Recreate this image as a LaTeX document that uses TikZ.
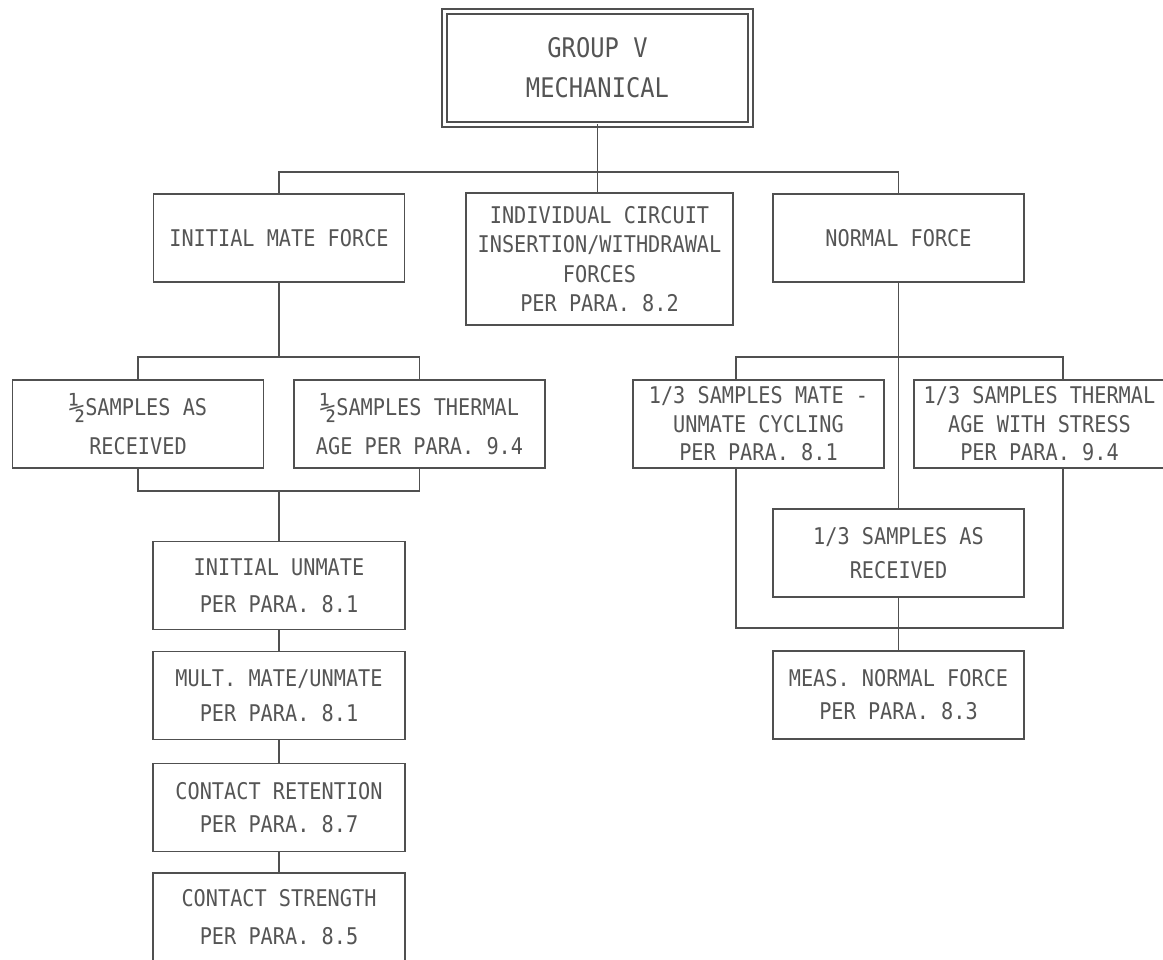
\documentclass[tikz,border=0pt]{standalone}
\usepackage{fontspec}
\usepackage{tikz}
\usepackage{xcolor}
\newfontfamily\cadfont[FakeStretch=0.88]{DejaVu Sans Mono}
\newcommand{\halfmark}{\raisebox{-3pt}{\fontsize{31}{31}\selectfont ½}}

\begin{document}
\begin{tikzpicture}[x=1pt, y=-1pt,
	blockbox/.style={draw=LINE_GRAY, line width=1.2pt, text=TEXT_GRAY, align=center, inner sep=0pt, outer sep=0pt, minimum width=251pt, minimum height=88pt, font=\cadfont\fontsize{23}{34}\selectfont},
	leadskip/.style={font=\cadfont\fontsize{23}{#1}\selectfont},
	wire/.style={draw=LINE_GRAY, line width=1.2pt}]
		\definecolor{LINE_GRAY}{RGB}{80, 80, 80}
		\definecolor{TEXT_GRAY}{RGB}{85, 85, 85}
		\definecolor{WHITE}{RGB}{255, 255, 255}
		\fill[WHITE] (0,0) rectangle (1163,960);
		\useasboundingbox (0,0) rectangle (1163,960);

		\node[draw=LINE_GRAY, double, double distance=3.5pt, line width=1.3pt, text=TEXT_GRAY, align=center, inner sep=0pt, outer sep=0pt, minimum width=306pt, minimum height=113pt, font=\cadfont\fontsize{27}{40}\selectfont] (group) at (597.5,68) {GROUP V\\MECHANICAL};

		\node[blockbox] (mateforce) at (279,238) {INITIAL MATE FORCE};
		\node[blockbox, minimum width=267pt, minimum height=132pt, leadskip=29.5] (circuit) at (599.5,259) {INDIVIDUAL CIRCUIT\\INSERTION/WITHDRAWAL\\FORCES\\PER PARA. 8.2};
		\node[blockbox] (normalforce) at (898.5,238) {NORMAL FORCE};

		\node[blockbox, leadskip=39] (halfrecv) at (138,424) {\halfmark SAMPLES AS\\RECEIVED};
		\node[blockbox, leadskip=39] (halfage) at (419.5,424) {\halfmark SAMPLES THERMAL\\AGE PER PARA. 9.4};
		\node[blockbox, leadskip=28.5] (thirdcycle) at (758.5,424) {1/3 SAMPLES MATE -\\UNMATE CYCLING\\PER PARA. 8.1};
		\node[blockbox, leadskip=28.5] (thirdstress) at (1039.5,424) {1/3 SAMPLES THERMAL\\AGE WITH STRESS\\PER PARA. 9.4};
		\node[blockbox, leadskip=34] (thirdrecv) at (898.5,553) {1/3 SAMPLES AS\\RECEIVED};
		\node[blockbox, leadskip=33] (measforce) at (898.5,695) {MEAS. NORMAL FORCE\\PER PARA. 8.3};

		\node[blockbox, minimum width=252pt, leadskip=37] (unmate) at (279,585.5) {INITIAL UNMATE\\PER PARA. 8.1};
		\node[blockbox, minimum width=252pt, leadskip=35] (multmate) at (279,695.5) {MULT. MATE/UNMATE\\PER PARA. 8.1};
		\node[blockbox, minimum width=252pt, leadskip=33] (retention) at (279,807.5) {CONTACT RETENTION\\PER PARA. 8.7};
		\node[blockbox, minimum width=252pt, leadskip=38] (strength) at (279,917) {CONTACT STRENGTH\\PER PARA. 8.5};

		\coordinate (topbus) at (598,172);
		\coordinate (halfbus) at (279,357);
		\coordinate (joinbus) at (279,491);
		\coordinate (thirdbus) at (899,357);
		\coordinate (meetbus) at (899,628);

		\draw[wire] (group.south) -- (group.south |- circuit.north);
		\draw[wire] (mateforce.north) |- (topbus) -| (normalforce.north);
		\draw[wire] (mateforce.south) -- (halfbus);
		\draw[wire] (halfrecv.north) |- (halfbus) -| (halfage.north);
		\draw[wire] (halfrecv.south) |- (joinbus) -| (halfage.south);
		\draw[wire] (joinbus) -- (unmate.north);
		\draw[wire] (unmate.south) -- (multmate.north);
		\draw[wire] (multmate.south) -- (retention.north);
		\draw[wire] (retention.south) -- (strength.north);
		\draw[wire] (normalforce.south) -- (thirdrecv.north);
		\draw[wire] ([xshift=-22.5pt]thirdcycle.north) |- (thirdbus) -| ([xshift=23.5pt]thirdstress.north);
		\draw[wire] ([xshift=-22.5pt]thirdcycle.south) |- (meetbus) -| ([xshift=23.5pt]thirdstress.south);
		\draw[wire] (thirdrecv.south) -- (measforce.north);
\end{tikzpicture}
\end{document}
